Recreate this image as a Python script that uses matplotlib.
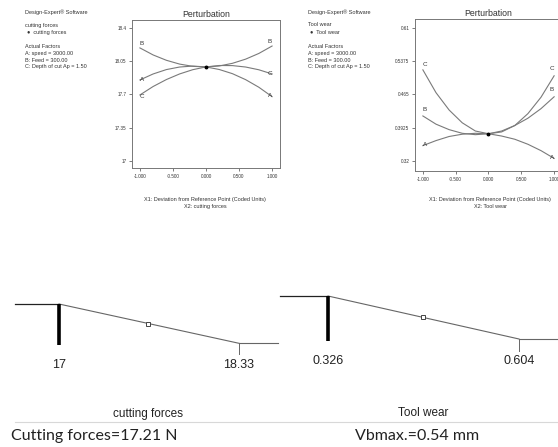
"""
Perturbation plots and desirability ramps for cutting forces and tool wear.
"""

import matplotlib.pyplot as plt
from matplotlib import transforms

W, H = 558, 447
plt.rcParams['font.family'] = ['Liberation Sans', 'DejaVu Sans']

# ---- data ----
coded = [-1.0, -0.8, -0.6, -0.4, -0.2, 0.0, 0.2, 0.4, 0.6, 0.8, 1.0]
coded_ticks = [-1.0, -0.5, 0.0, 0.5, 1.0]
coded_labels = ['-1.000', '-0.500', '0.000', '0.500', '1.000']

cf_A = [17.853, 17.916, 17.962, 17.989, 17.999, 17.99, 17.963, 17.919, 17.856, 17.776, 17.677]
cf_B = [18.19, 18.116, 18.060, 18.020, 17.996, 17.99, 18.000, 18.028, 18.072, 18.132, 18.21]
cf_C = [17.695, 17.784, 17.857, 17.916, 17.961, 17.99, 18.005, 18.004, 17.989, 17.960, 17.916]
cf_center = 17.99
cf_yticks = [17, 17.35, 17.7, 18.05, 18.4]
cf_ylabels = ['17', '17.35', '17.7', '18.05', '18.4']

tw_A = [0.353, 0.364, 0.373, 0.378, 0.380, 0.379, 0.374, 0.367, 0.356, 0.342, 0.325]
tw_B = [0.418, 0.400, 0.388, 0.380, 0.377, 0.379, 0.385, 0.397, 0.413, 0.434, 0.460]
tw_C = [0.519, 0.469, 0.431, 0.403, 0.385, 0.379, 0.383, 0.397, 0.423, 0.459, 0.506]
tw_center = 0.379
tw_yticks = [0.32, 0.3925, 0.465, 0.5375, 0.61]
tw_ylabels = ['0.32', '0.3925', '0.465', '0.5375', '0.61']

factors = ['A: speed = 3000.00', 'B: Feed = 300.00', 'C: Depth of cut Ap = 1.50']

cf_low, cf_high, cf_marker = 17.0, 18.33, 17.66
tw_low, tw_high, tw_marker = 0.326, 0.604, 0.464

TXT = '#333333'
LINE = '#7a7a7a'


def fx(px):
    return px / W


def fy(py):
    return 1 - py / H


def axes_px(fig, x0, y0, x1, y1):
    return fig.add_axes([x0 / W, 1 - y1 / H, (x1 - x0) / W, (y1 - y0) / H])


def side_text(fig, x, y0, response):
    """Design-Expert legend block."""
    fig.text(fx(x), fy(y0), 'Design-Expert\u00ae Software', fontsize=4, color=TXT, va='center')
    fig.text(fx(x), fy(y0 + 13), response, fontsize=4, color=TXT, va='center')
    fig.text(fx(x + 2), fy(y0 + 20.5), '\u25cf  ' + response, fontsize=4, color=TXT, va='center')
    fig.text(fx(x), fy(y0 + 35), 'Actual Factors', fontsize=4, color=TXT, va='center')
    for i, f in enumerate(factors):
        fig.text(fx(x), fy(y0 + 41.5 + 6.5 * i), f, fontsize=4, color=TXT, va='center')


def perturbation(ax, curves, center, yticks, ylabels, ylim, offsets):
    for (name, vals), (dl, dr) in zip(curves.items(), offsets):
        ax.plot(coded, vals, color=LINE, lw=0.8)
        ax.annotate(name, (coded[0], vals[0]), xytext=(1.5, dl), textcoords='offset points',
                    ha='center', va='center', fontsize=4.5, color=TXT)
        ax.annotate(name, (coded[-1], vals[-1]), xytext=(-1.5, dr), textcoords='offset points',
                    ha='center', va='center', fontsize=4.5, color=TXT)
    ax.plot([0], [center], 'o', color='black', ms=1.8)
    ax.set_xlim(-1.12, 1.12)
    ax.set_ylim(*ylim)
    ax.set_xticks(coded_ticks)
    ax.set_xticklabels(coded_labels)
    ax.set_yticks(yticks)
    ax.set_yticklabels(ylabels)
    ax.tick_params(labelsize=3.3, length=2.5, width=0.6, colors='#666', labelcolor=TXT, pad=1.5)
    for s in ax.spines.values():
        s.set_color('#777')
        s.set_linewidth(0.7)
    ax.set_title('Perturbation', fontsize=6.3, color=TXT, pad=2)


def ramp(fig, box, low, high, marker, lo_lab, hi_lab, name, result, ys, result_x):
    x0, y0, x1, y1, bar_px, end_px = box
    ax = axes_px(fig, x0, y0, x1, y1)
    scale = (end_px - bar_px) / (high - low)
    xmin = low - (bar_px - x0) / scale
    xmax = high + (x1 - end_px) / scale
    ax.set_xlim(xmin, xmax)
    ax.set_ylim(0, 1)
    ax.axis('off')
    ax.plot([xmin, low], [1, 1], color='#222', lw=0.9, clip_on=False)
    ax.plot([low, high], [1, 0], color='#666', lw=0.8, clip_on=False)
    ax.plot([high, xmax], [0, 0], color='#666', lw=0.8, clip_on=False)
    ax.plot([low, low], [1, -0.04], color='black', lw=2.6, solid_capstyle='butt', clip_on=False)
    ax.plot([high, high], [0, -0.28], color='#666', lw=0.7, clip_on=False)
    d = (high - marker) / (high - low)
    ax.plot([marker], [d], 's', ms=3.5, mfc='white', mec='#444', mew=0.7, clip_on=False)

    tr = transforms.blended_transform_factory(ax.transData, fig.transFigure)
    ax.text(low, fy(ys[0]), lo_lab, transform=tr, ha='center', va='center', fontsize=9, color='#222')
    ax.text(high, fy(ys[0]), hi_lab, transform=tr, ha='center', va='center', fontsize=9, color='#222')
    ax.text(marker, fy(ys[1]), name, transform=tr, ha='center', va='center', fontsize=8.5, color='#222')
    fig.text(fx(result_x), fy(ys[2]), result, ha='center', va='center', fontsize=11.5,
             color='#222', family=['Lato', 'DejaVu Sans'])


fig = plt.figure(figsize=(W / 100, H / 100), dpi=100)

# top-left: cutting forces
side_text(fig, 25, 12, 'cutting forces')
ax1 = axes_px(fig, 132, 20, 280, 168)
perturbation(ax1, {'A': cf_A, 'B': cf_B, 'C': cf_C}, cf_center, cf_yticks, cf_ylabels,
             (16.926, 18.484), [(0.5, 0.5), (3.5, 3.5), (-1, 0)])
fig.text(fx(205), fy(199), 'X1: Deviation from Reference Point (Coded Units)',
         fontsize=4, color=TXT, ha='center', va='center')
fig.text(fx(205), fy(206), 'X2: cutting forces', fontsize=4, color=TXT, ha='center', va='center')

# top-right: tool wear
side_text(fig, 308, 12, 'Tool wear')
ax2 = axes_px(fig, 415, 19, 562, 171)
perturbation(ax2, {'A': tw_A, 'B': tw_B, 'C': tw_C}, tw_center, tw_yticks, tw_ylabels,
             (0.2974, 0.6304), [(1, 0.5), (4.5, 5), (4, 5)])
fig.text(fx(490), fy(199), 'X1: Deviation from Reference Point (Coded Units)',
         fontsize=4, color=TXT, ha='center', va='center')
fig.text(fx(490), fy(206), 'X2: Tool wear', fontsize=4, color=TXT, ha='center', va='center')

# bottom: desirability ramps
ramp(fig, (15, 304, 278, 343.3, 59, 239), cf_low, cf_high, cf_marker, '17', '18.33',
     'cutting forces', 'Cutting forces=17.21 N', (365, 414, 436), 94)
ramp(fig, (280, 296, 558, 339, 328, 519), tw_low, tw_high, tw_marker, '0.326', '0.604',
     'Tool wear', 'Vbmax.=0.54 mm', (361, 413, 436), 417)
fig.add_artist(plt.Line2D([fx(15), 1], [fy(421.5), fy(421.5)], color='#d8d8d8', lw=0.8))

fig.savefig('out.png', dpi=100)
